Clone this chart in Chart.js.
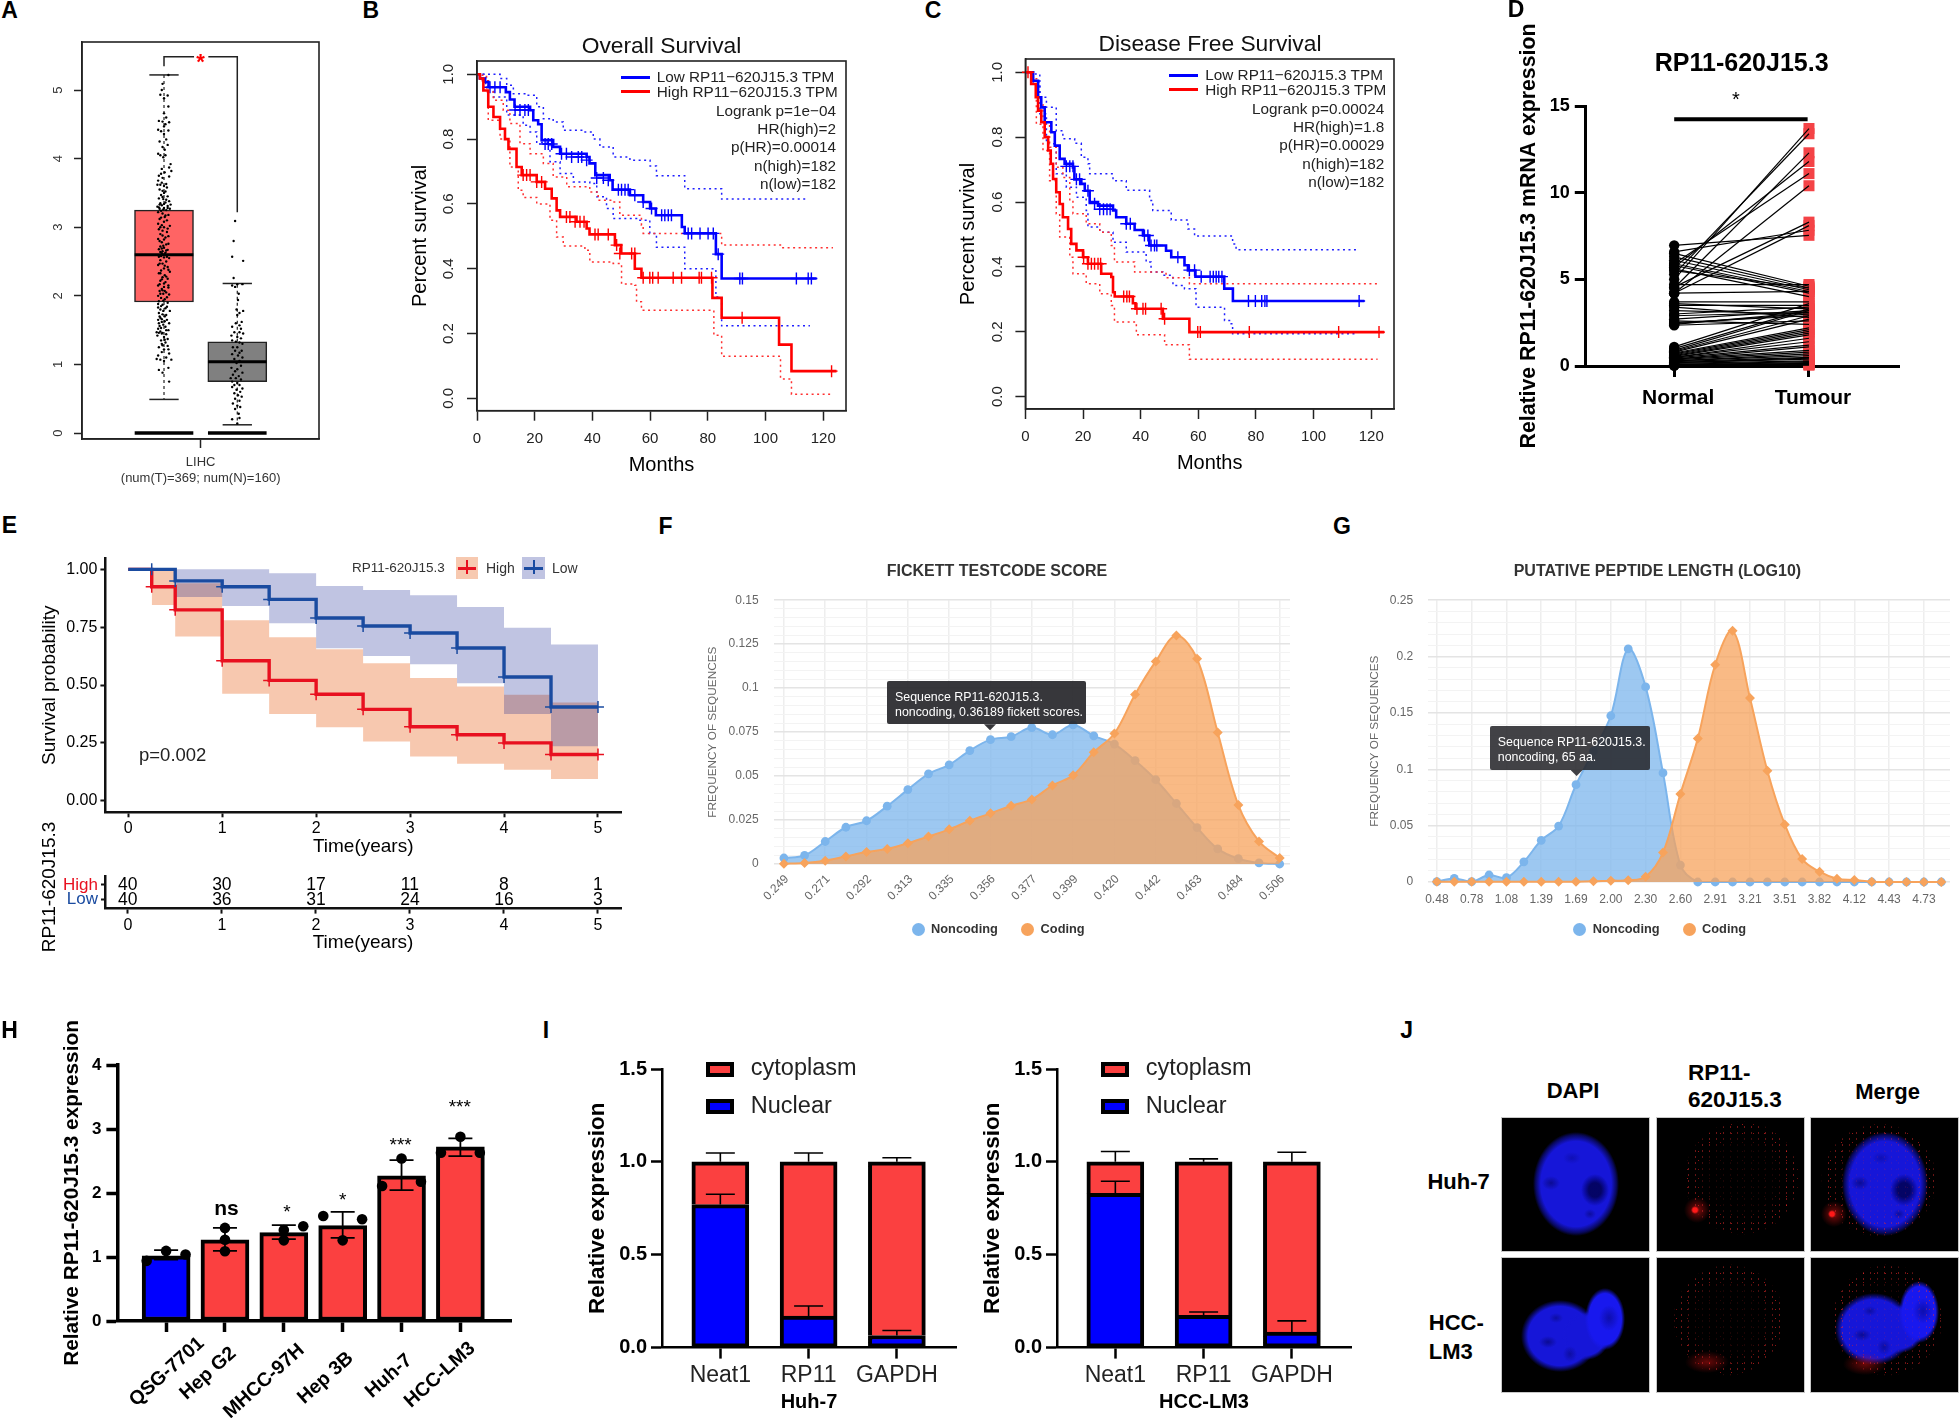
<!DOCTYPE html>
<html lang="en">
<head>
<meta charset="UTF-8" />
<title>RP11-620J15.3 figure</title>
<script src="https://cdn.jsdelivr.net/npm/chart.js"></script>
<style>
  html, body { margin: 0; background: #fff; }
  body { position: relative; width: 1960px; height: 1418px; overflow: hidden; font-family: "Liberation Sans", Arial, sans-serif; }
  canvas { position: absolute; }
  .t { position: absolute; white-space: nowrap; line-height: 1; }
  .b { position: absolute; box-sizing: border-box; }
</style>
</head>
<body>
<script>
// ---- panel A: box plot
const boxQ1 = [1.91, 0.75];
const boxQ3 = [3.25, 1.33];
const boxMedian = [2.6, 1.04];
const whiskerHigh = [5.22, 2.18];
const whiskerLow = [0.49, 0.12];
const tumourDots = [[1.06,5.22],[.98,5.09],[.97,5.0],[.95,4.93],[1.05,4.92],[1.0,4.88],[1.06,4.76],[1.0,4.66],[1.03,4.6],[.93,4.55],[.98,4.54],[1.07,4.53],[1.02,4.5],[1.0,4.47],[.92,4.42],[.96,4.4],[1.06,4.41],[1.0,4.36],[1.03,4.28],[.94,4.25],[1.05,4.2],[.98,4.17],[1.01,4.13],[.92,4.07],[.95,4.05],[.99,4.02],[1.02,4.05],[1.09,3.92],[1.07,3.87],[.97,3.85],[1.1,3.82],[1.01,3.8],[.93,3.75],[.96,3.78],[.98,3.72],[1.07,3.74],[.92,3.68],[.95,3.62],[.97,3.65],[1.0,3.6],[1.03,3.63],[.94,3.55],[.98,3.53],[1.0,3.5],[.96,3.47],[1.02,3.52],[1.05,3.45],[.93,3.42],[.99,3.41],[1.07,3.38],[1.02,3.36],[.94,3.33],[.97,3.32],[1.05,3.31],[1.09,3.33],[.91,3.3],[1.0,3.28],[.94,3.27],[.96,3.24],[1.03,3.25],[1.08,3.27],[.92,3.22],[.98,3.2],[1.06,3.18],[1.01,3.15],[.94,3.12],[1.04,3.1],[.92,3.05],[.97,3.03],[1.0,3.0],[1.08,3.02],[.93,2.97],[.98,2.95],[1.04,2.93],[.95,2.9],[1.06,2.87],[.92,2.83],[1.0,2.82],[.97,2.78],[1.03,2.75],[.95,2.72],[1.0,2.7],[.93,2.68],[1.05,2.67],[.98,2.65],[1.02,2.63],[.97,2.62],[.93,2.57],[1.0,2.56],[1.07,2.55],[.95,2.52],[1.03,2.5],[.98,2.47],[.92,2.45],[1.05,2.42],[1.0,2.4],[.96,2.37],[1.08,2.35],[.93,2.33],[1.01,2.3],[.98,2.27],[1.05,2.25],[.95,2.22],[1.02,2.2],[.92,2.15],[1.0,2.13],[1.06,2.12],[.97,2.1],[.94,2.07],[1.03,2.05],[.99,2.03],[1.07,2.02],[.92,2.0],[.96,1.97],[1.01,1.95],[.93,1.92],[1.05,1.9],[.98,1.87],[.92,1.83],[1.02,1.82],[.95,1.8],[1.08,1.78],[.93,1.75],[.98,1.73],[1.01,1.7],[.95,1.68],[.92,1.65],[1.04,1.65],[.97,1.62],[1.07,1.6],[.99,1.58],[.94,1.56],[1.02,1.55],[.92,1.52],[1.06,1.5],[.95,1.48],[.9,1.47],[.97,1.45],[1.03,1.44],[.91,1.42],[1.0,1.4],[1.05,1.37],[.96,1.35],[1.02,1.32],[.98,1.28],[1.05,1.27],[.93,1.25],[1.0,1.22],[.97,1.18],[1.07,1.16],[.92,1.13],[1.03,1.1],[.9,1.08],[.95,1.07],[1.1,1.07],[1.0,1.05],[.93,.92],[1.06,.95],[.98,.88],[1.07,.75],
  [.91,3.62],[1.04,3.58],[.98,3.44],[1.03,3.4],[.95,3.35],[1.0,3.34],[.93,3.29],[1.05,3.28],[.99,3.26],[1.02,3.17],[.96,3.14],[1.0,3.08],[.95,3.0],[1.05,2.98],[.98,2.88],[1.02,2.85],[.94,2.8],[1.06,2.76],[.99,2.73],[.97,2.69],[1.03,2.66],[.95,2.64],[1.01,2.61],[.96,2.58],[1.04,2.57],[.94,2.47],[1.01,2.44],[1.06,2.38],[.95,2.33],[1.03,2.28],[.97,2.24],[1.0,2.18],[.94,2.17],[1.06,2.15],[.98,2.08],[1.01,2.07],[.95,2.03],[1.04,1.98],[.99,1.93],[.92,1.88],[.96,1.85],[1.04,1.84],[.99,1.78],[1.03,1.72],[.94,1.7],[.97,1.66],[1.01,1.63],[.93,1.6],[.96,1.53],[1.03,1.5],[.98,1.46],[.93,1.46],[1.01,1.36],[.97,1.3],[1.06,1.22]];
const normalDots = [[1.97,3.09],[1.95,2.8],[1.93,2.57],[2.08,2.51],[1.95,2.26],[2.0,2.17],[2.07,2.17],[1.93,2.15],[1.97,2.13],[2.02,2.03],[2.01,1.94],[1.99,1.8],[2.08,1.78],[2.03,1.75],[2.0,1.72],[2.06,1.62],[1.98,1.6],[2.03,1.57],[1.93,1.55],[2.05,1.52],[1.96,1.47],[2.03,1.47],[2.08,1.45],[1.92,1.42],[2.0,1.4],[2.05,1.38],[1.93,1.35],[1.98,1.33],[2.03,1.32],[2.07,1.3],[1.94,1.25],[2.0,1.25],[1.97,1.2],[2.06,1.2],[2.03,1.17],[1.93,1.15],[2.01,1.13],[2.07,1.1],[1.96,1.08],[2.03,1.05],[1.99,1.02],[2.05,.98],[1.92,.95],[2.0,.93],[1.97,.9],[2.07,.88],[1.94,.85],[2.02,.83],[1.91,.8],[1.98,.8],[2.05,.78],[1.93,.75],[2.0,.73],[1.96,.7],[2.03,.7],[1.93,.67],[2.07,.65],[1.99,.63],[2.04,.6],[1.96,.58],[2.01,.55],[2.06,.53],[1.97,.5],[2.03,.47],[1.94,.43],[2.0,.4],[2.04,.38],[1.97,.35],[2.02,.28],[1.93,.2],[2.03,.22],[2.0,.14]];
const lihcTicks = [0, 1, 2, 3, 4, 5];

// ---- panel B: overall survival
const osLowM = [0,1,2.8,4,10,11.4,13,18.4,19.5,21.2,22.4,26.4,28.8,38,39,41,46,47,53,57.6,60,62,71,72,82.8,84.8,117.7];
const osLowS = [1,.987,.976,.96,.945,.922,.9,.889,.858,.846,.797,.776,.755,.745,.725,.689,.673,.644,.627,.606,.586,.565,.529,.509,.445,.37,.37];
const osLowUpM = [0,1,8,10.3,12.6,17.2,20.7,23,26.4,29.9,36.8,40.3,42.6,47.2,53,60,62.2,70.3,72,81.9,84.8,114.2];
const osLowUpS = [1,1,.987,.966,.94,.935,.9,.863,.853,.827,.822,.8,.776,.745,.735,.717,.687,.687,.647,.647,.615,.615];
const osLowLoM = [0,3,5.7,10.3,16,18.4,20.7,25.3,28.8,33.4,39.1,41.5,44.9,47.2,55.3,59.9,62.2,70.3,72,82.4,82.8,84.8,115.4];
const osLowLoS = [1,.96,.93,.874,.843,.822,.79,.73,.694,.668,.663,.622,.586,.555,.55,.509,.466,.466,.4,.4,.313,.224,.224];
const osHighM = [0,1,2.2,3.9,5.7,8,9.7,10.9,13.7,15.5,20.7,23.6,25.9,27.6,28.8,34.5,38,39,47.8,50,54.7,57,81.6,84.8,104.7,109,124.6];
const osHighS = [1,.987,.95,.9,.868,.832,.8,.77,.714,.689,.668,.647,.617,.58,.56,.545,.524,.506,.473,.447,.4,.372,.31,.249,.166,.084,.084];
const osHighUpM = [0,1,3.3,5.7,9.1,11.4,14.9,18.4,23,26.4,31.1,39.1,42,47.2,49.5,55.3,57,57.6,84.2,84.8,104.4,105.5,123.4];
const osHighUpS = [1,.997,.945,.92,.889,.848,.786,.755,.725,.683,.653,.637,.611,.606,.565,.565,.534,.509,.509,.473,.473,.465,.465];
const osHighLoM = [0,1,3.9,8,11.4,14.3,16,20.7,25.3,27.6,29.9,37.4,39.1,47.2,50.1,54.7,55.3,57,81.3,82.1,84.8,104.7,105.2,108.8,109,123.4];
const osHighLoS = [1,.98,.858,.8,.714,.642,.62,.6,.55,.498,.47,.457,.421,.416,.353,.349,.298,.272,.272,.195,.13,.13,.06,.06,.013,.013];
const osLowCensM = [4.5,6.2,8,13.2,14.9,16.6,17.8,23.6,24.7,25.9,29.3,31,32.8,35.1,36.3,38,41.5,43.8,45.5,49,50.1,51.3,52.4,54.7,57.6,60.5,64,65.1,66.3,67.4,73.2,74.4,77.3,80.1,81.9,83.6,91.1,92,110.7,114.8,115.9];
const osLowCensS = [.96,.96,.96,.89,.89,.89,.89,.785,.785,.785,.755,.755,.745,.745,.745,.735,.68,.68,.673,.644,.644,.644,.644,.627,.606,.586,.565,.565,.565,.565,.509,.509,.509,.509,.509,.445,.37,.37,.37,.37,.37];
const osHighCensM = [16,17.2,18.4,20.7,22.4,31,32.2,34,35.7,37.1,40.9,42,45.5,48.4,49.5,53.6,54.7,57.6,59.9,60.9,62.8,68,70.9,77,77.8,81.3,91.9,122.9];
const osHighCensS = [.689,.689,.689,.668,.668,.56,.56,.545,.545,.545,.506,.506,.506,.473,.447,.447,.447,.372,.372,.372,.372,.372,.372,.372,.372,.372,.249,.084];

// ---- panel C: disease free survival
const dfsLowM = [0,2.1,2.7,4.4,5.5,6.7,9,10.2,11.9,13.6,16.5,17,19.4,20.6,22.3,25.2,30.4,31.5,35,37.9,40.8,43,48.8,50.6,55.2,56.4,59,69,72,117.6];
const dfsLowS = [1,1,.974,.923,.892,.846,.815,.774,.733,.718,.707,.67,.656,.635,.6,.589,.574,.553,.533,.514,.497,.466,.45,.43,.405,.389,.37,.333,.295,.295];
const dfsLowUpM = [0,2.7,5,7.3,10.7,13,17.1,19.4,21.7,22.3,30.4,35,43.1,44.2,49.4,50.6,54.6,56.4,58.7,67.9,71.9,73.1,115.2];
const dfsLowUpS = [1,.995,.923,.892,.82,.795,.781,.738,.718,.687,.666,.636,.605,.574,.574,.545,.545,.517,.495,.495,.471,.453,.453];
const dfsLowLoM = [0,2.7,5,7.3,10.7,14.2,17.7,21.1,21.7,25.8,30.4,35,41.9,43.6,47.7,51.2,55.2,59.2,68.5,69.1,71.4,71.9,115.2];
const dfsLowLoS = [1,.97,.872,.78,.687,.646,.615,.574,.523,.507,.476,.446,.415,.384,.374,.343,.333,.276,.276,.235,.225,.194,.194];
const dfsHighM = [0,.3,2,3.6,4.4,5.5,6.7,7.9,8.8,9.6,10.7,11.9,13,14.8,15.9,17.7,20,21.7,26.3,29.8,30.4,31,37.3,38.2,47.7,56.9,124.5];
const dfsHighS = [1,1,.964,.923,.882,.846,.8,.759,.718,.671,.63,.594,.553,.517,.471,.451,.43,.41,.379,.369,.322,.309,.288,.271,.24,.199,.199];
const dfsHighUpM = [0,2.1,4.4,6.1,8.4,10.7,13,15.4,16.5,21.1,25.8,29.8,30.9,36.7,37.9,47.7,48.8,56.4,56.9,122.2];
const dfsHighUpS = [1,.98,.9,.84,.769,.707,.676,.605,.564,.533,.507,.466,.415,.415,.384,.384,.367,.367,.348,.348];
const dfsHighLoM = [0,2.1,3.8,6.1,8.4,10.7,11.9,15.4,16.5,21.1,25.8,29.8,30.9,36.7,38.5,47.7,48.3,56.7,56.9,122.2];
const dfsHighLoS = [1,.975,.84,.759,.666,.564,.492,.43,.379,.348,.317,.281,.23,.23,.191,.191,.16,.16,.115,.115];
const dfsLowCensM = [14.2,15.4,16.5,17.7,18.8,21.7,24,25.8,27.1,28.3,29.4,35,36.4,41.3,42.5,43.6,44.8,45.6,52.9,56.9,58.7,61,64.1,65.2,66.2,67.1,68.2,77.4,79.8,82,83.1,83.8,115.8];
const dfsLowCensS = [.71,.71,.71,.67,.67,.635,.595,.578,.578,.578,.578,.533,.533,.497,.497,.466,.466,.466,.43,.39,.39,.37,.37,.37,.37,.37,.37,.295,.295,.295,.295,.295,.295];
const dfsHighCensM = [.9,20.2,21.7,22.9,24,25.2,26.1,34.1,35.2,36.1,38.7,40.8,41.7,47.1,48.3,59.8,60.7,77.7,108.7,122.7];
const dfsHighCensS = [1,.43,.41,.41,.41,.41,.41,.309,.309,.309,.271,.271,.271,.271,.24,.199,.199,.199,.199,.199];
const monthTicks = [0, 20, 40, 60, 80, 100, 120];
const survivalTicks = [0, 0.2, 0.4, 0.6, 0.8, 1];

// ---- panel D: paired expression
const pairedGroups = ["Normal", "Tumour"];
const pairedNormal = [5.0,5.3,4.5,5.7,5.9,4.2,4.55,4.2,6.58,6.96,6.5,6.3,6.1,5.9,5.8,5.6,5.5,4.7,4.2,3.7,3.6,3.5,3.4,3.2,3.0,2.9,2.7,2.6,2.5,2.45,2.4,2.35,1.1,1.0,.9,.85,.8,.75,.7,.65,.6,.55,.5,.5,.45,.4,.4,.35,.3,.3,.25,.2,.2,.15,.1,.08,.05,.05,.03,.02];
const pairedTumour = [13.7,13.4,12.3,11.8,11.1,10.4,8.3,8.1,7.83,7.54,4.6,4.5,4.4,4.3,4.2,4.0,4.5,4.7,4.3,3.7,3.3,3.5,2.8,3.0,3.4,3.1,3.2,2.4,2.9,3.0,3.1,2.6,3.6,3.3,3.2,2.9,2.7,2.2,2.1,2.0,1.9,1.8,1.6,1.4,1.2,1.1,.9,.8,.7,.6,.5,.45,.4,.3,.25,.2,.15,.1,.08,.05];

// ---- panel E: Kaplan-Meier with risk table
const kmYears = [0, .5, 1, 1.5, 2, 2.5, 3, 3.5, 4, 4.5, 5];
const kmLow = [1, .95, .925, .87, .79, .755, .725, .66, .535, .405, .405];
const kmLowUp = [1, 1, 1, .983, .928, .911, .888, .837, .748, .675, .675];
const kmLowLo = [1, .88, .842, .767, .659, .626, .59, .508, .375, .235, .235];
const kmHighYears = [0, .25, .5, 1, 1.5, 2, 2.5, 3, 3.5, 4, 4.5, 5];
const kmHigh = [1, .925, .825, .605, .52, .46, .395, .32, .285, .25, .2, .2];
const kmHighUp = [1, 1, .94, .78, .706, .655, .594, .53, .494, .458, .424, .424];
const kmHighLo = [1, .846, .71, .462, .375, .318, .256, .191, .16, .134, .094, .094];
const riskYears = [0, 1, 2, 3, 4, 5];
const riskHigh = [40, 30, 17, 11, 8, 1];
const riskLow = [40, 36, 31, 24, 16, 3];
const riskGroups = ["Low", "High"];
const kmProbTicks = [0, .25, .5, .75, 1];

// ---- panel F: Fickett score
const fickettLabels = ["0.249","","0.271","","0.292","","0.313","","0.335","","0.356","","0.377","","0.399","","0.420","","0.442","","0.463","","0.484","","0.506"];
const fickettNoncoding = [.0034,.0049,.0128,.0209,.0246,.0329,.0423,.0513,.0564,.0645,.0707,.0724,.0776,.0735,.0791,.0729,.0682,.0588,.0479,.0344,.0207,.0086,.003,.0006,0];
const fickettCoding = [.0002,.0006,.0019,.0043,.0068,.0085,.0118,.0156,.0197,.0246,.0288,.0331,.0367,.0447,.0504,.0635,.0742,.0964,.1152,.1299,.1167,.0748,.0335,.0128,.0034];
const fickettGrid = [0,.005,.01,.015,.02,.025,.03,.035,.04,.045,.05,.055,.06,.065,.07,.075,.08,.085,.09,.095,.1,.105,.11,.115,.12,.125,.13,.135,.14,.145,.15];
const fickettTickText = {0:"0",.025:"0.025",.05:"0.05",.075:"0.075",.1:"0.1",.125:"0.125",.15:"0.15"};

// ---- panel G: peptide length
const peptideLabels = ["0.48","","0.78","","1.08","","1.39","","1.69","","2.00","","2.30","","2.60","","2.91","","3.21","","3.51","","3.82","","4.12","","4.43","","4.73",""];
const peptideNoncoding = [.0003,.0032,.0003,.0062,.0038,.0179,.037,.0496,.0863,.116,.1475,.2068,.1731,.0968,.015,0,0,0,0,0,0,0,0,0,0,0,0,0,0,0];
const peptideCoding = [.0003,.0003,.0003,.0003,.0003,.0003,.0003,.0003,.0003,.0006,.0012,.0015,.0047,.0261,.0781,.1272,.1927,.223,.1633,.0987,.0511,.0203,.0091,.0029,.0018,.0003,0,0,0,0];
const peptideGrid = [0,.01,.02,.03,.04,.05,.06,.07,.08,.09,.1,.11,.12,.13,.14,.15,.16,.17,.18,.19,.2,.21,.22,.23,.24,.25];
const peptideTickText = {0:"0",.05:"0.05",.1:"0.1",.15:"0.15",.2:"0.2",.25:"0.25"};

// ---- panel H: cell lines
const cellLines = ["QSG-7701", "Hep G2", "MHCC-97H", "Hep 3B", "Huh-7", "HCC-LM3"];
const cellMeans = [1.02, 1.27, 1.38, 1.49, 2.27, 2.72];
const cellErrLow = [.96, 1.095, 1.278, 1.3, 2.044, 2.576];
const cellErrHigh = [1.106, 1.455, 1.497, 1.705, 2.514, 2.853];
const cellRepX = [.67,1,1.33, 2,2,2, 3,3,3.33, 3.67,4,4.33, 5,4.67,5.33, 6,5.67,6.33];
const cellRepY = [.94,1.095,1.04, 1.455,1.27,1.09, 1.42,1.26,1.48, 1.64,1.26,1.59, 2.54,2.11,2.175, 2.88,2.63,2.63];

// ---- panel I: fractionation
const fractionGenes = ["Neat1", "RP11", "GAPDH"];
const huhNuclear = [.77, .17, .065];
const huhCytoplasm = [.23, .83, .935];
const huhNucErr = [.826, .224, .092];
const huhTopErr = [1.048, 1.048, 1.022];
const lm3Nuclear = [.83, .174, .084];
const lm3Cytoplasm = [.17, .826, .916];
const lm3NucErr = [.896, .192, .144];
const lm3TopErr = [1.056, 1.016, 1.052];

Chart.defaults.font.family = '"Liberation Sans", Arial, sans-serif';
Chart.defaults.color = "#000";

// text and small boxes sit on the page, centred on y
function label(text, x, y, o) {
  o = o || {};
  const d = document.createElement("div");
  d.className = "t";
  d.textContent = text;
  const ax = o.align === "left" ? "0" : o.align === "right" ? "-100%" : "-50%";
  const origin = o.align === "right" ? "transform-origin:100% 50%;" : "";
  d.style.cssText = `left:${x}px;top:${y}px;font-size:${o.size || 14}px;color:${o.color || "#000"};font-weight:${o.bold ? 700 : 400};${origin}transform:translate(${ax},-50%)${o.rotate ? " rotate(" + o.rotate + "deg)" : ""};z-index:${o.z || 5}`;
  document.body.appendChild(d);
}
function rect(x, y, w, h, css) {
  const d = document.createElement("div");
  d.className = "b";
  d.style.cssText = `left:${x}px;top:${y}px;width:${w}px;height:${h}px;${css}`;
  document.body.appendChild(d);
  return d;
}

const xy = (xs, ys) => xs.map((x, i) => ({ x, y: ys[i] }));

const framePlugin = {
  id: "frame",
  afterDraw(chart) {
    const a = chart.chartArea, c = chart.ctx;
    c.save();
    c.strokeStyle = "#222";
    c.lineWidth = 1.6;
    c.strokeRect(a.left, a.top, a.right - a.left, a.bottom - a.top);
    c.restore();
  },
};

// error bars as [x, low, high], drawn through the chart's scales
const errorBarPlugin = {
  id: "errorBars",
  afterDatasetsDraw(chart, args, opts) {
    const c = chart.ctx, sx = chart.scales.x, sy = chart.scales.y;
    c.save();
    c.strokeStyle = "#000";
    c.lineWidth = opts.width;
    opts.items.forEach(([x, lo, hi]) => {
      const px = sx.getPixelForValue(x);
      const top = sy.getPixelForValue(hi), bot = sy.getPixelForValue(lo);
      c.beginPath();
      c.moveTo(px, bot); c.lineTo(px, top);
      c.moveTo(px - opts.cap, top); c.lineTo(px + opts.cap, top);
      if (opts.lowCap) { c.moveTo(px - opts.cap, bot); c.lineTo(px + opts.cap, bot); }
      c.stroke();
    });
    c.restore();
  },
};

const riskTextPlugin = {
  id: "riskText",
  afterDatasetsDraw(chart) {
    const c = chart.ctx;
    c.save();
    c.font = '17.5px "Liberation Sans"';
    c.textAlign = "center";
    c.textBaseline = "middle";
    chart.data.datasets.forEach((ds) => {
      ds.data.forEach((p) => {
        c.fillText(ds.counts[riskYears.indexOf(p.x)], chart.scales.x.getPixelForValue(p.x), chart.scales.y.getPixelForValue(p.y));
      });
    });
    c.restore();
  },
};

function linearAxis(min, max, at, o) {
  o = o || {};
  return {
    type: "linear", min, max, offset: false,
    afterBuildTicks: (s) => { s.ticks = at.map((value) => ({ value })); },
    border: { display: true, color: o.color || "#000", width: o.lineW || 1.5 },
    grid: { display: true, offset: false, drawOnChartArea: false, drawTicks: true, tickLength: o.tick || 10, tickWidth: o.tickW || 1.5, tickColor: o.color || "#000" },
    ticks: Object.assign({ autoSkip: false }, o.ticks),
  };
}

// puts a chart so its plot area lands on x0,y0 - x1,y1
function place(b, cfg) {
  const opt = cfg.options;
  let ml = b.ml || 70, mb = b.mb || 60;
  const mt = b.mt || 20, mr = b.mr || 30;
  if (b.yTitle) {
    ml = b.x0 - b.yTitle.cx + 0.6 * b.yTitle.size;
    opt.scales.y.title = { display: true, text: b.yTitle.text, color: b.yTitle.color || "#000", padding: 0, font: { size: b.yTitle.size, weight: b.yTitle.bold ? "bold" : "normal" } };
  }
  if (b.xTitle) {
    mb = b.xTitle.cy - b.y1 + 0.6 * b.xTitle.size;
    opt.scales.x.title = { display: true, text: b.xTitle.text, color: "#000", padding: 0, font: { size: b.xTitle.size, weight: b.xTitle.bold ? "bold" : "normal" } };
  }
  opt.scales.x.afterFit = (s) => { s.height = mb; };
  opt.scales.y.afterFit = (s) => { s.width = ml; };
  opt.responsive = false;
  opt.animation = false;
  opt.layout = { padding: { left: 0, top: mt, right: mr, bottom: 0 } };
  opt.plugins = Object.assign({ legend: { display: false }, tooltip: { enabled: false } }, opt.plugins);
  const c = document.createElement("canvas");
  c.width = Math.round(b.x1 - b.x0 + ml + mr);
  c.height = Math.round(b.y1 - b.y0 + mt + mb);
  c.style.left = b.x0 - ml + "px";
  c.style.top = b.y0 - mt + "px";
  document.body.appendChild(c);
  return new Chart(c, cfg);
}

function plainLine(data, color, width, extra) {
  return Object.assign({ type: "line", data, borderColor: color, borderWidth: width, pointRadius: 0, clip: false, fill: false }, extra);
}

// ---- A
place({ x0: 82, y0: 42, x1: 319, y1: 439, ml: 50, mb: 60 }, {
  type: "bar",
  data: {
    datasets: [
      plainLine(tumourDots.map(([x, y]) => ({ x, y })), "#000", 0, { showLine: false, pointRadius: 1.2, pointBackgroundColor: "#000", pointBorderWidth: 0 }),
      plainLine(normalDots.map(([x, y]) => ({ x, y })), "#000", 0, { showLine: false, pointRadius: 1.2, pointBackgroundColor: "#000", pointBorderWidth: 0 }),
      plainLine([{ x: .6, y: boxMedian[0] }, { x: 1.4, y: boxMedian[0] }], "#000", 3),
      plainLine([{ x: 1.6, y: boxMedian[1] }, { x: 2.4, y: boxMedian[1] }], "#000", 3),
      plainLine([{ x: .6, y: 0 }, { x: 1.4, y: 0 }], "#000", 3.5),
      plainLine([{ x: 1.6, y: 0 }, { x: 2.4, y: 0 }], "#000", 3.5),
      plainLine([{ x: 1, y: boxQ3[0] }, { x: 1, y: whiskerHigh[0] }], "#222", 1.2, { borderDash: [3, 3] }),
      plainLine([{ x: 1, y: boxQ1[0] }, { x: 1, y: whiskerLow[0] }], "#222", 1.2, { borderDash: [3, 3] }),
      plainLine([{ x: 2, y: boxQ3[1] }, { x: 2, y: whiskerHigh[1] }], "#222", 1.2, { borderDash: [3, 3] }),
      plainLine([{ x: 2, y: boxQ1[1] }, { x: 2, y: whiskerLow[1] }], "#222", 1.2, { borderDash: [3, 3] }),
      plainLine([{ x: .8, y: whiskerHigh[0] }, { x: 1.2, y: whiskerHigh[0] }], "#222", 1.5),
      plainLine([{ x: .8, y: whiskerLow[0] }, { x: 1.2, y: whiskerLow[0] }], "#222", 1.5),
      plainLine([{ x: 1.8, y: whiskerHigh[1] }, { x: 2.2, y: whiskerHigh[1] }], "#222", 1.5),
      plainLine([{ x: 1.8, y: whiskerLow[1] }, { x: 2.2, y: whiskerLow[1] }], "#222", 1.5),
      plainLine([{ x: 1, y: 5.345 }, { x: 1, y: 5.486 }, { x: 1.41, y: 5.486 }], "#222", 1.5),
      plainLine([{ x: 1.605, y: 5.486 }, { x: 2, y: 5.486 }, { x: 2, y: 3.217 }], "#222", 1.5),
      { type: "bar", data: [{ x: 1, y: [boxQ1[0], boxQ3[0]] }, { x: 2, y: [boxQ1[1], boxQ3[1]] }], backgroundColor: ["#ff6464", "#808080"], borderColor: "#222", borderWidth: 1.5, borderSkipped: false, barThickness: 59 },
    ],
  },
  options: {
    scales: {
      x: linearAxis(-.119, 3.115, [1.5], { tick: 9, color: "#222", ticks: { color: "#333", font: { size: 13 }, padding: 7, callback: () => ["LIHC", "(num(T)=369; num(N)=160)"] } }),
      y: linearAxis(-.087, 5.7, lihcTicks, { tick: 8, color: "#222", ticks: { minRotation: 90, maxRotation: 90, crossAlign: "center", padding: 12, color: "#333", font: { size: 13 } } }),
    },
  },
  plugins: [framePlugin],
});
label("*", 200.5, 62, { size: 22, color: "#f00", bold: true });

// ---- B and C share one drawing routine
function survivalPanel(b, s) {
  const stepped = (m, v, color, w, dash) => plainLine(xy(m, v), color, w, { stepped: true, borderDash: dash || [], clip: 0 });
  const cens = (m, v, color) => plainLine(xy(m, v), color, 0, { showLine: false, pointStyle: "cross", pointRadius: 6, pointBorderColor: color, pointBorderWidth: 1.4, pointBackgroundColor: color });
  place(b, {
    type: "line",
    data: {
      datasets: [
        cens(s.highCensM, s.highCensS, "#ff0000"),
        stepped(s.highM, s.highS, "#ff0000", 2.6),
        cens(s.lowCensM, s.lowCensS, "#0000ff"),
        stepped(s.lowM, s.lowS, "#0000ff", 2.6),
        stepped(s.highUpM, s.highUpS, "#ff3030", 1.5, [2, 3.5]),
        stepped(s.highLoM, s.highLoS, "#ff3030", 1.5, [2, 3.5]),
        stepped(s.lowUpM, s.lowUpS, "#2020ff", 1.5, [2, 3.5]),
        stepped(s.lowLoM, s.lowLoS, "#2020ff", 1.5, [2, 3.5]),
      ],
    },
    options: {
      scales: {
        x: linearAxis(s.xmin, s.xmax, monthTicks, { tick: 10, color: "#222", ticks: { font: { size: 15 }, color: "#222", padding: 9, maxRotation: 0 } }),
        y: linearAxis(-.038, 1.041, survivalTicks, { tick: 10, color: "#222", ticks: { minRotation: 90, maxRotation: 90, crossAlign: "center", padding: 7.5, color: "#222", font: { size: 15 }, callback: (v) => v.toFixed(1) } }),
      },
    },
    plugins: [framePlugin],
  });
}

survivalPanel({ x0: 477, y0: 60.7, x1: 846, y1: 410.7, yTitle: { text: "Percent survival", cx: 420, size: 20 }, xTitle: { text: "Months", cy: 465, size: 20 } }, {
  xmin: 0, xmax: 127.9, lowM: osLowM, lowS: osLowS, lowUpM: osLowUpM, lowUpS: osLowUpS, lowLoM: osLowLoM, lowLoS: osLowLoS,
  highM: osHighM, highS: osHighS, highUpM: osHighUpM, highUpS: osHighUpS, highLoM: osHighLoM, highLoS: osHighLoS,
  lowCensM: osLowCensM, lowCensS: osLowCensS, highCensM: osHighCensM, highCensS: osHighCensS,
});
survivalPanel({ x0: 1025.7, y0: 58.7, x1: 1394.7, y1: 408.7, yTitle: { text: "Percent survival", cx: 968.3, size: 20 }, xTitle: { text: "Months", cy: 462.7, size: 20 } }, {
  xmin: 0, xmax: 127.9, lowM: dfsLowM, lowS: dfsLowS, lowUpM: dfsLowUpM, lowUpS: dfsLowUpS, lowLoM: dfsLowLoM, lowLoS: dfsLowLoS,
  highM: dfsHighM, highS: dfsHighS, highUpM: dfsHighUpM, highUpS: dfsHighUpS, highLoM: dfsHighLoM, highLoS: dfsHighLoS,
  lowCensM: dfsLowCensM, lowCensS: dfsLowCensS, highCensM: dfsHighCensM, highCensS: dfsHighCensS,
});

function survivalNotes(cx, titleY, title, lineL, lineY, notes, right) {
  label(title, cx, titleY, { size: 22.8, color: "#111" });
  rect(lineL, lineY - 1.5, 29, 3, "background:#0000ff");
  rect(lineL, lineY + 13, 29, 3, "background:#ff0000");
  label("Low RP11\u2212620J15.3 TPM", lineL + 36, lineY, { size: 15.3, align: "left", color: "#222" });
  label("High RP11\u2212620J15.3 TPM", lineL + 36, lineY + 14.5, { size: 15.3, align: "left", color: "#222" });
  notes.forEach((n, i) => label(n, right, lineY + 33.3 + i * 18.4, { size: 15.3, align: "right", color: "#222" }));
}
survivalNotes(661.5, 45, "Overall Survival", 620.7, 77.3, ["Logrank p=1e\u221204", "HR(high)=2", "p(HR)=0.00014", "n(high)=182", "n(low)=182"], 836);
survivalNotes(1210, 43.3, "Disease Free Survival", 1169.3, 75.3, ["Logrank p=0.00024", "HR(high)=1.8", "p(HR)=0.00029", "n(high)=182", "n(low)=182"], 1384.3);

// ---- D
place({ x0: 1586, y0: 105.7, x1: 1899, y1: 365.7, mt: 95, mb: 90, yTitle: { text: "Relative RP11-620J15.3 mRNA expression", cx: 1529, size: 21.3, bold: true } }, {
  type: "line",
  data: {
    datasets: [
      plainLine([{ x: 1, y: 14.23 }, { x: 1.99, y: 14.23 }], "#000", 4),
      plainLine(pairedNormal.map((y) => ({ x: 1, y })), "#000", 0, { showLine: false, pointRadius: 5.2, pointBackgroundColor: "#000", pointBorderWidth: 0 }),
    ].concat(pairedNormal.map((n, i) => plainLine([{ x: 1, y: n }, { x: 2, y: pairedTumour[i] }], "#000", 1.2))).concat([
      plainLine(pairedTumour.map((y) => ({ x: 2, y })), "#f44346", 0, { showLine: false, pointStyle: "rect", pointRadius: 7.8, pointBackgroundColor: "#f44346", pointBorderWidth: 0 }),
    ]),
  },
  options: {
    scales: {
      x: linearAxis(.344, 2.668, [1, 2], { tick: 11, tickW: 3, lineW: 3, ticks: { font: { size: 21, weight: "bold" }, padding: 9, labelOffset: 4, maxRotation: 0, callback: (v) => pairedGroups[v - 1] } }),
      y: linearAxis(0, 15, [0, 5, 10, 15], { tick: 11, tickW: 3, lineW: 3, ticks: { font: { size: 18, weight: "bold" }, padding: 5 } }),
    },
  },
});
label("RP11-620J15.3", 1741.7, 61.7, { size: 25, bold: true });
label("*", 1736, 99, { size: 20 });

// ---- E
const kmCross = (xs, ys, color) => plainLine(xy(xs, ys), color, 0, { showLine: false, pointStyle: "cross", pointRadius: 6, pointBorderColor: color, pointBorderWidth: 1.5 });
place({ x0: 105, y0: 558, x1: 621, y1: 812.7, yTitle: { text: "Survival probability", cx: 49, size: 19 }, xTitle: { text: "Time(years)", cy: 847, size: 19 } }, {
  type: "line",
  data: {
    datasets: [
      kmCross([.25].concat(kmYears.slice(1)), [1].concat(kmLow.slice(1)), "#1a4ba0"),
      plainLine(xy(kmYears, kmLow), "#1a4ba0", 3.4, { stepped: true }),
      kmCross(kmHighYears.slice(1), kmHigh.slice(1), "#e8101f"),
      plainLine(xy(kmHighYears, kmHigh), "#e8101f", 3.4, { stepped: true }),
      plainLine(xy(kmYears.slice(1), kmLowUp.slice(1)), "transparent", 0, { stepped: true, fill: "+1", backgroundColor: "rgba(3,20,140,.25)" }),
      plainLine(xy(kmYears.slice(1), kmLowLo.slice(1)), "transparent", 0, { stepped: true }),
      plainLine(xy(kmHighYears.slice(1), kmHighUp.slice(1)), "transparent", 0, { stepped: true, fill: "+1", backgroundColor: "rgba(235,117,55,.4)" }),
      plainLine(xy(kmHighYears.slice(1), kmHighLo.slice(1)), "transparent", 0, { stepped: true }),
    ],
  },
  options: {
    scales: {
      x: linearAxis(-.243, 5.245, riskYears, { tick: 5, tickW: 2, lineW: 2.5, color: "#111", ticks: { font: { size: 16 }, padding: 2, maxRotation: 0 } }),
      y: linearAxis(-.05, 1.049, kmProbTicks, { tick: 5, tickW: 2, lineW: 2.5, color: "#111", ticks: { font: { size: 16 }, padding: 3, callback: (v) => v.toFixed(2) } }),
    },
  },
});
label("p=0.002", 139, 755, { size: 18.5, align: "left", color: "#222" });
label("RP11-620J15.3", 352, 568, { size: 13.5, align: "left", color: "#333" });
rect(456, 557, 22, 22, "background:#f7c9b0");
rect(458, 566.5, 18, 3, "background:#e8101f");
rect(466, 560, 2, 14, "background:#e8101f");
label("High", 486, 568, { size: 14, align: "left", color: "#333" });
rect(522, 557, 23, 22, "background:#c0c4e2");
rect(524, 566.5, 19, 3, "background:#1a4ba0");
rect(532.5, 560, 2, 14, "background:#1a4ba0");
label("Low", 552, 568, { size: 14, align: "left", color: "#333" });

place({ x0: 105, y0: 876, x1: 621, y1: 909, mb: 50, xTitle: { text: "Time(years)", cy: 943, size: 19 } }, {
  type: "line",
  data: {
    datasets: [
      { data: riskYears.map((x) => ({ x, y: 2 })), counts: riskHigh, pointRadius: 0, showLine: false },
      { data: riskYears.map((x) => ({ x, y: 1 })), counts: riskLow, pointRadius: 0, showLine: false },
    ],
  },
  options: {
    scales: {
      x: linearAxis(-.243, 5.245, riskYears, { tick: 5, tickW: 2, lineW: 2.5, color: "#111", ticks: { font: { size: 16 }, padding: 2, maxRotation: 0 } }),
      y: linearAxis(.4, 2.6, [1, 2], { tick: 4, tickW: 2, lineW: 2.5, color: "#111", ticks: { font: { size: 17 }, padding: 3, color: (c) => (c.index === 1 ? "#e8101f" : "#1a4ba0"), callback: (v) => riskGroups[v - 1] } }),
    },
  },
  plugins: [riskTextPlugin],
});
label("RP11-620J15.3", 48, 887, { size: 19, rotate: -90 });

// ---- F and G
function frequencyPanel(b, s) {
  const area = (data, color, fillColor, style, r) => ({
    data, borderColor: color, backgroundColor: fillColor, borderWidth: 2, fill: "origin", tension: .35,
    pointStyle: style, pointRadius: r, pointBackgroundColor: color, pointBorderWidth: 0, clip: false,
  });
  const isMajor = (v) => s.text[v] !== undefined;
  const yAxis = linearAxis(0, s.ymax, s.grid);
  yAxis.border = { display: false };
  yAxis.grid = { display: true, drawTicks: false, lineWidth: (c) => (isMajor(c.tick.value) ? 1.5 : 1), color: (c) => (isMajor(c.tick.value) ? "#e4e4e4" : "#f3f3f3") };
  yAxis.ticks = { autoSkip: false, color: "#666", font: { size: 12 }, padding: 15, callback: (v) => (isMajor(v) ? s.text[v] : "") };
  place(b, {
    type: "line",
    data: {
      labels: s.labels,
      datasets: [
        area(s.coding, "#f7a35c", "rgba(247,163,92,.75)", "rectRot", 5),
        area(s.noncoding, "#7cb5ec", "rgba(124,181,236,.75)", "circle", 4.4),
      ],
    },
    options: {
      plugins: { filler: { drawTime: "beforeDatasetDraw" } },
      scales: {
        x: {
          type: "category", offset: true,
          border: { display: false },
          grid: { display: true, offset: false, drawTicks: false, lineWidth: 1.5, color: (c) => (c.index % 2 === 0 ? "#eeeeee" : "transparent") },
          ticks: Object.assign({ autoSkip: false, color: "#666", font: { size: 12 } }, s.xticks),
        },
        y: yAxis,
      },
    },
  });
}
frequencyPanel({ x0: 773.5, y0: 598.3, x1: 1289.5, y1: 864.3, mb: 60, yTitle: { text: "FREQUENCY OF SEQUENCES", cx: 713, size: 11.8, color: "#666" } }, {
  labels: fickettLabels, coding: fickettCoding, noncoding: fickettNoncoding, ymax: .15, grid: fickettGrid, text: fickettTickText,
  xticks: { minRotation: 45, maxRotation: 45, padding: 8, labelOffset: 3 },
});
frequencyPanel({ x0: 1428.6, y0: 598.3, x1: 1950, y1: 882, mb: 60, mr: 9, yTitle: { text: "FREQUENCY OF SEQUENCES", cx: 1375.5, size: 11.8, color: "#666" } }, {
  labels: peptideLabels, coding: peptideCoding, noncoding: peptideNoncoding, ymax: .25, grid: peptideGrid, text: peptideTickText,
  xticks: { maxRotation: 0, padding: 10 },
});

function tipBox(x, y, w, h, caretX, lines, textX, lineYs, alpha) {
  rect(x, y, w, h, `background:rgba(40,40,44,${alpha});border-radius:2px;z-index:4`);
  rect(caretX - 6, y + h, 12, 6, `background:rgba(40,40,44,${alpha});clip-path:polygon(0 0,100% 0,50% 100%);z-index:4`);
  lines.forEach((t, i) => label(t, textX, lineYs[i], { size: 12.4, align: "left", color: "#fff" }));
}
function freqLegend(c1, t1, c2, t2, y) {
  rect(c1 - 6.5, y - 6.5, 13, 13, "background:#7cb5ec;border-radius:50%");
  label("Noncoding", t1, y, { size: 12.8, bold: true, align: "left", color: "#333" });
  rect(c2 - 6.5, y - 6.5, 13, 13, "background:#f7a35c;border-radius:50%");
  label("Coding", t2, y, { size: 12.8, bold: true, align: "left", color: "#333" });
}
label("FICKETT TESTCODE SCORE", 997, 571, { size: 16, bold: true, color: "#333" });
tipBox(887, 680.7, 199, 43.6, 990, ["Sequence RP11-620J15.3.", "noncoding, 0.36189 fickett scores."], 895, [696.7, 711.7], .93);
freqLegend(918, 931, 1027.5, 1040.6, 929);
label("PUTATIVE PEPTIDE LENGTH (LOG10)", 1657.4, 571, { size: 16, bold: true, color: "#333" });
tipBox(1489.5, 726, 160.5, 44, 1576.6, ["Sequence RP11-620J15.3.", "noncoding, 65 aa."], 1497.8, [741.7, 757.3], .88);
freqLegend(1579.5, 1592.8, 1689, 1702, 929);

// ---- H
place({ x0: 117.6, y0: 1065, x1: 511, y1: 1320.7, mt: 50, mb: 97, yTitle: { text: "Relative RP11-620J15.3 expression", cx: 72.7, size: 20.8, bold: true } }, {
  type: "bar",
  data: {
    datasets: [
      plainLine(xy(cellRepX, cellRepY), "#000", 0, { showLine: false, pointRadius: 5.3, pointBackgroundColor: "#000", pointBorderWidth: 0 }),
      { type: "bar", data: cellMeans.map((y, i) => ({ x: i + 1, y })), backgroundColor: ["#0000ff", "#fb4040", "#fb4040", "#fb4040", "#fb4040", "#fb4040"], borderColor: "#000", borderWidth: 4, borderSkipped: false, barThickness: 48 },
    ],
  },
  options: {
    plugins: { errorBars: { items: cellMeans.map((m, i) => [i + 1, cellErrLow[i], cellErrHigh[i]]), cap: 12, width: 1.8, lowCap: true } },
    scales: {
      x: linearAxis(.172, 6.86, [1, 2, 3, 4, 5, 6], { tick: 11, tickW: 3.5, lineW: 3.5, ticks: { display: false } }),
      y: linearAxis(0, 4, [0, 1, 2, 3, 4], { tick: 11, tickW: 3.5, lineW: 3.5, ticks: { font: { size: 17, weight: "bold" }, padding: 5 } }),
    },
  },
  plugins: [errorBarPlugin],
});
// the rotated names are staggered in the source, so each gets its own anchor
[[201, 1340], [233, 1350], [301, 1347], [350, 1355], [409, 1357], [471.6, 1345]].forEach(([x, y], i) => {
  label(cellLines[i], x, y, { size: 19.5, bold: true, align: "right", rotate: -42 });
});
label("ns", 226.5, 1206.7, { size: 21, bold: true });
label("*", 287, 1211, { size: 19 });
label("*", 342.8, 1199, { size: 19 });
label("***", 400.6, 1144, { size: 19 });
label("***", 459.8, 1106, { size: 19 });

// ---- I
function fractionPanel(b, xmin, xmax, nuclear, cytoplasm, nucErr, topErr, name) {
  const errItems = nuclear.map((n, i) => [i + 1, n, nucErr[i]]).concat(topErr.map((t, i) => [i + 1, 1, t]));
  b.yTitle = { text: "Relative expression", cx: b.x0 - 64.5, size: 22.5, bold: true };
  b.xTitle = { text: name, cy: 1401.7, size: 20, bold: true };
  place(b, {
    type: "bar",
    data: {
      datasets: [
        { data: nuclear.map((y, i) => ({ x: i + 1, y })), backgroundColor: "#0000ff", borderColor: "#000", borderWidth: 4, borderSkipped: false, barThickness: 57 },
        { data: cytoplasm.map((y, i) => ({ x: i + 1, y })), backgroundColor: "#fb4040", borderColor: "#000", borderWidth: 4, borderSkipped: "bottom", barThickness: 57 },
      ],
    },
    options: {
      plugins: { errorBars: { items: errItems, cap: 14.5, width: 1.6 } },
      scales: {
        x: Object.assign(linearAxis(xmin, xmax, [1, 2, 3], { tick: 11, tickW: 2.5, lineW: 2.5, ticks: { font: { size: 23 }, padding: 3, maxRotation: 0, color: "#222", callback: (v) => fractionGenes[v - 1] } }), { stacked: true }),
        y: Object.assign(linearAxis(0, 1.5, [0, .5, 1, 1.5], { tick: 11, tickW: 2.5, lineW: 2.5, ticks: { font: { size: 20, weight: "bold" }, padding: 4, callback: (v) => v.toFixed(1) } }), { stacked: true }),
      },
    },
    plugins: [errorBarPlugin],
  });
}
fractionPanel({ x0: 662.3, y0: 1068.7, x1: 956, y1: 1347.3 }, .339, 3.67, huhNuclear, huhCytoplasm, huhNucErr, huhTopErr, "Huh-7");
fractionPanel({ x0: 1057.3, y0: 1068.7, x1: 1351.6, y1: 1347.3 }, .339, 3.67, lm3Nuclear, lm3Cytoplasm, lm3NucErr, lm3TopErr, "HCC-LM3");
[[705.8, 750.8], [1100.7, 1145.7]].forEach(([kx, tx]) => {
  rect(kx, 1061.7, 28, 15, "background:#fb4040;border:4px solid #000");
  rect(kx, 1099, 28, 15, "background:#0000ff;border:4px solid #000");
  label("cytoplasm", tx, 1068, { size: 23.5, align: "left", color: "#222" });
  label("Nuclear", tx, 1105.7, { size: 23.5, align: "left", color: "#222" });
});

// ---- J micrographs, painted with css only
const huhNucleus = "radial-gradient(ellipse 14px 16px at 93px 72px,rgba(3,3,95,.95) 45%,rgba(3,3,120,.5) 75%,transparent),radial-gradient(ellipse 9px 7px at 49px 65px,rgba(5,5,110,.65),transparent),radial-gradient(ellipse 6px 5px at 88px 96px,rgba(5,5,110,.55),transparent),radial-gradient(ellipse 9px 6px at 70px 40px,rgba(5,5,130,.4),transparent),radial-gradient(ellipse 43px 52px at 74px 66px,#1616d8 82%,rgba(15,15,170,.55) 94%,transparent 100%)";
const lm3Nucleus = (dx, dy) => `radial-gradient(ellipse 9px 6px at ${46 + dx}px ${84 + dy}px,rgba(5,5,110,.65),transparent),radial-gradient(ellipse 10px 13px at ${107 + dx}px ${60 + dy}px,rgba(5,5,120,.55),transparent),radial-gradient(ellipse 7px 8px at ${68 + dx}px ${96 + dy}px,rgba(5,5,110,.5),transparent),radial-gradient(ellipse 7px 5px at ${54 + dx}px ${60 + dy}px,rgba(5,5,110,.5),transparent),radial-gradient(ellipse 20px 31px at ${103 + dx}px ${61 + dy}px,#1818ee 82%,transparent 100%),radial-gradient(ellipse 24px 24px at ${84 + dx}px ${78 + dy}px,#1616d8 80%,transparent 100%),radial-gradient(ellipse 39px 36px at ${58 + dx}px ${78 + dy}px,#1616d8 82%,rgba(15,15,170,.5) 93%,transparent 100%)`;
const redGlow = (x, y) => `radial-gradient(circle 13px at ${x + 2}px ${y}px,rgba(255,20,20,.5),transparent),radial-gradient(circle 4px at ${x}px ${y}px,#ff1c1c 55%,transparent)`;
const softGlow = (x, y) => `radial-gradient(ellipse 22px 11px at ${x}px ${y}px,rgba(190,15,15,.55),transparent)`;
function micrograph(x, y, layers, ring) {
  const d = rect(x, y, 149.4, 135.4, `background:${layers ? layers + "," : ""}#000;border:1px solid #c8c8c8;overflow:hidden`);
  if (!ring) return;
  const s = document.createElement("div");
  s.className = "b";
  const mask = `radial-gradient(ellipse ${ring[2]}px ${ring[3]}px at ${ring[0]}px ${ring[1]}px,rgba(0,0,0,.25) 60%,#000 84%,#000 94%,transparent 100%)`;
  s.style.cssText = `left:0;top:0;width:100%;height:100%;background:radial-gradient(circle 1.1px,rgba(255,50,50,.8),transparent) 0 0/7px 6px,radial-gradient(circle 1px,rgba(220,30,30,.7),transparent) 3px 2px/11px 9px;-webkit-mask-image:${mask};mask-image:${mask}`;
  d.appendChild(s);
}
micrograph(1501, 1116.7, huhNucleus);
micrograph(1655.6, 1116.7, redGlow(38, 92), [85, 60, 58, 57]);
micrograph(1810, 1116.7, redGlow(21, 96) + "," + huhNucleus, [68, 62, 58, 57]);
micrograph(1501, 1257.3, lm3Nucleus(0, 0));
micrograph(1655.6, 1257.3, softGlow(50, 104), [72, 62, 56, 56]);
micrograph(1810, 1257.3, softGlow(54, 106) + "," + lm3Nucleus(5, -7), [76, 62, 56, 56]);
label("DAPI", 1573, 1091, { size: 22, bold: true });
label("RP11-", 1688, 1072.7, { size: 22.5, bold: true, align: "left" });
label("620J15.3", 1688, 1100, { size: 22.5, bold: true, align: "left" });
label("Merge", 1887.6, 1091.7, { size: 22, bold: true });
label("Huh-7", 1427.4, 1181.7, { size: 22, bold: true, align: "left" });
label("HCC-", 1428.8, 1323.3, { size: 22, bold: true, align: "left" });
label("LM3", 1428.8, 1351.7, { size: 22, bold: true, align: "left" });

// ---- panel letters
[["A", 9.5, 10], ["B", 370.7, 10], ["C", 933, 10], ["D", 1516, 9], ["E", 9.5, 525], ["F", 665.6, 526], ["G", 1342, 526], ["H", 9.5, 1030], ["I", 546, 1030], ["J", 1406.6, 1030]]
  .forEach(([t, x, y]) => label(t, x, y, { size: 23, bold: true }));
</script>
</body>
</html>
